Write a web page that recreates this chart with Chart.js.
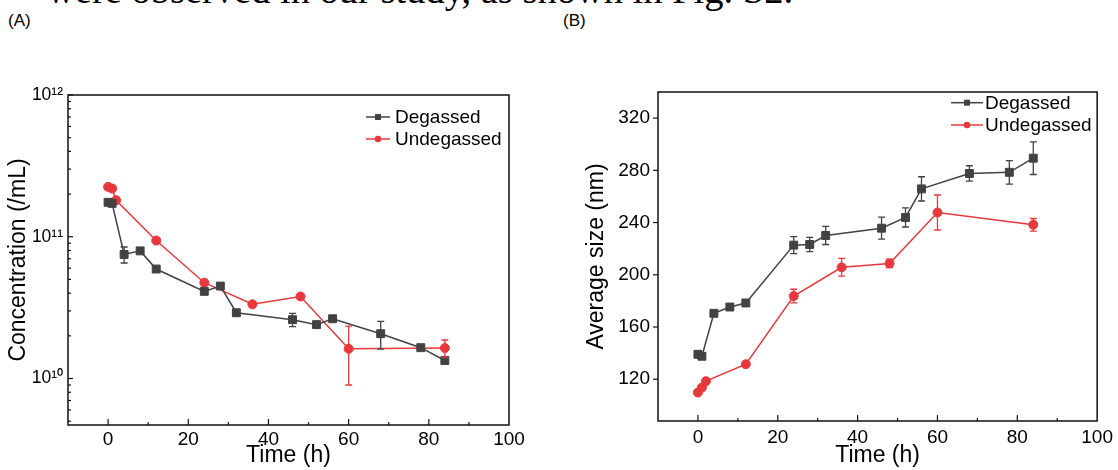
<!DOCTYPE html>
<html>
<head>
<meta charset="utf-8">
<script src="https://cdn.jsdelivr.net/npm/chart.js@4.4.1/dist/chart.umd.min.js"></script>
<style>
html, body { margin: 0; padding: 0; background: #fff; }
#page { position: relative; width: 1118px; height: 470px; overflow: hidden; font-family: 'Liberation Sans', Arial, sans-serif; color: #000; }
#caption { position: absolute; left: 47px; top: -29px; font-family: 'Liberation Serif', 'Times New Roman', serif; font-size: 38.5px; line-height: 38px; white-space: nowrap; }
.tag { position: absolute; top: 12px; font-size: 17px; line-height: 17px; }
canvas { position: absolute; top: 40px; }
</style>
</head>
<body>
<div id="page">
  <div id="caption">were observed in our study, as shown in Fig. S2.</div>
  <div class="tag" style="left:8px">(A)</div>
  <div class="tag" style="left:563px">(B)</div>
  <canvas id="chartA" width="550" height="430" style="left:0"></canvas>
  <canvas id="chartB" width="558" height="430" style="left:560px"></canvas>
</div>
<script>
// --- DATA ---
const hoursDeg   = [0, 1, 4, 8, 12, 24, 28, 32, 46, 52, 56, 68, 78, 84];
const hoursUndeg = [0, 1, 2, 12, 24, 36, 48, 60, 84];

// (A) concentration, /mL
const concDeg      = [1.75e11, 1.72e11, 7.5e10, 7.95e10, 5.92e10, 4.12e10, 4.49e10, 2.91e10, 2.60e10, 2.40e10, 2.64e10, 2.07e10, 1.65e10, 1.34e10];
const concDegErr   = [0, 0, 0.97e10, 0, 0, 0, 0, 0, 0.28e10, 0.12e10, 0, 0.46e10, 0, 0];
const concUndeg    = [2.25e11, 2.19e11, 1.81e11, 9.4e10, 4.74e10, 3.34e10, 3.79e10, 1.62e10, 1.64e10];
const concUndegErr = [0, 0, 0, 0, 0, 0, 0, 0.72e10, 0.23e10];

// (B) average size, nm
const sizeDeg      = [139.1, 137.6, 170.5, 175.3, 178.4, 222.7, 223.2, 230.1, 235.7, 243.9, 265.8, 277.6, 278.5, 289.3];
const sizeDegErr   = [1.5, 1.5, 1.5, 1.5, 2.5, 6.5, 5.4, 6.9, 8.4, 7.3, 9.3, 5.9, 9.0, 12.5];
const sizeUndeg    = [109.8, 113.6, 118.5, 131.5, 183.7, 205.7, 208.7, 247.7, 238.3];
const sizeUndegErr = [1, 1, 1, 1.5, 5.2, 6.8, 3.2, 13.4, 4.8];

// tick labels
const timeTicks = [0, 20, 40, 60, 80, 100];
const concTicks = [1e10, 1e11, 1e12];
const sizeTicks = [120, 160, 200, 240, 280, 320];

const GRAY = '#424242';
const RED = '#e8383b';
const SUP = { '0': '\u2070', '1': '\u00b9', '2': '\u00b2', '3': '\u00b3', '4': '\u2074', '5': '\u2075', '6': '\u2076', '7': '\u2077', '8': '\u2078', '9': '\u2079' };

Chart.defaults.font.family = "'Liberation Sans', Arial, sans-serif";
Chart.defaults.color = '#000';

function pairs(xs, ys) {
    return xs.map((x, i) => ({ x: x, y: ys[i] }));
}

function powerLabel(v) {
    const e = Math.round(Math.log10(v));
    const hit = concTicks.some(t => Math.abs(t - v) / t < 1e-6);
    if (!hit) return '';
    return '10' + String(e).split('').map(c => SUP[c]).join('');
}

// error bars drawn from the dataset's errors array
const errorBars = {
    id: 'errorBars',
    afterDatasetsDraw(chart) {
        const ctx = chart.ctx, yScale = chart.scales.y;
        chart.data.datasets.forEach((ds, i) => {
            if (!ds.errors) return;
            const meta = chart.getDatasetMeta(i);
            ctx.save();
            ctx.strokeStyle = ds.borderColor;
            ctx.lineWidth = 1.3;
            meta.data.forEach((pt, j) => {
                const e = ds.errors[j];
                if (!e) return;
                const v = ds.data[j].y;
                const top = yScale.getPixelForValue(v + e);
                const bot = yScale.getPixelForValue(v - e);
                ctx.beginPath();
                ctx.moveTo(pt.x, top); ctx.lineTo(pt.x, bot);
                ctx.moveTo(pt.x - 3.5, top); ctx.lineTo(pt.x + 3.5, top);
                ctx.moveTo(pt.x - 3.5, bot); ctx.lineTo(pt.x + 3.5, bot);
                ctx.stroke();
            });
            ctx.restore();
        });
    }
};

// box around the plot plus Origin-style tick marks
const frame = {
    id: 'frame',
    afterDraw(chart, args, opts) {
        const ctx = chart.ctx, a = chart.chartArea;
        ctx.save();
        ctx.strokeStyle = '#111';
        ctx.lineWidth = 1.5;
        ctx.strokeRect(a.left, a.top, a.right - a.left, a.bottom - a.top);
        ctx.lineWidth = 1.2;
        ['x', 'y'].forEach(id => {
            const s = chart.scales[id], o = opts[id];
            let marks = [];
            if (s.type === 'logarithmic') {
                for (let n = Math.floor(Math.log10(s.min)); n <= Math.ceil(Math.log10(s.max)); n++) {
                    for (let k = 1; k <= 9; k++) {
                        const v = k * Math.pow(10, n);
                        if (v >= s.min && v <= s.max) marks.push({ v: v, major: k === 1 });
                    }
                }
            } else {
                marks = s.ticks.map(t => ({ v: t.value, major: t.label !== '' }));
            }
            marks.forEach(m => {
                const len = m.major ? o.major : o.minor;
                if (!len) return;
                const p = s.getPixelForValue(m.v);
                const sign = o.dir === 'in' ? 1 : -1;
                ctx.beginPath();
                if (id === 'x') {
                    if (p < a.left + 1 || p > a.right - 1) return;
                    ctx.moveTo(p, a.bottom); ctx.lineTo(p, a.bottom - sign * len);
                } else {
                    ctx.moveTo(a.left, p); ctx.lineTo(a.left + sign * len, p);
                }
                ctx.stroke();
            });
        });
        ctx.restore();
    }
};

// legend sitting inside the plot, line + marker + text
const innerLegend = {
    id: 'innerLegend',
    afterDraw(chart, args, opts) {
        const ctx = chart.ctx, a = chart.chartArea;
        ctx.save();
        ctx.font = '19px ' + Chart.defaults.font.family;
        ctx.textBaseline = 'middle';
        chart.data.datasets.forEach((ds, i) => {
            const y = a.top + opts.y + i * opts.rowGap;
            const x0 = a.left + opts.x, x1 = x0 + opts.lineLen, mx = (x0 + x1) / 2;
            ctx.strokeStyle = ds.borderColor;
            ctx.fillStyle = ds.borderColor;
            ctx.lineWidth = 1.5;
            ctx.beginPath(); ctx.moveTo(x0, y); ctx.lineTo(x1, y); ctx.stroke();
            ctx.beginPath();
            if (ds.pointStyle === 'rect') ctx.rect(mx - 3, y - 3, 6, 6);
            else ctx.arc(mx, y, 3.3, 0, Math.PI * 2);
            ctx.fill();
            ctx.fillStyle = '#000';
            ctx.fillText(ds.label, x1 + opts.gap, y + 1);
        });
        ctx.restore();
    }
};

function series(label, color, style, radius, xs, ys, errs) {
    return {
        label: label,
        data: pairs(xs, ys),
        errors: errs,
        borderColor: color,
        backgroundColor: color,
        pointBackgroundColor: color,
        pointBorderColor: color,
        borderWidth: 1.5,
        pointStyle: style,
        pointRadius: radius,
        pointBorderWidth: 1,
        tension: 0
    };
}

function timeAxis(height, pad) {
    return {
        type: 'linear',
        min: -10,
        max: 100,
        grid: { display: false, drawTicks: false, tickLength: 0 },
        border: { display: false },
        ticks: {
            stepSize: 10,
            autoSkip: false,
            maxRotation: 0,
            padding: pad,
            font: { size: 19 },
            callback: v => timeTicks.includes(v) ? String(v) : ''
        },
        title: { display: true, text: 'Time (h)', font: { size: 23 }, padding: { top: 0, bottom: 1 } },
        afterFit: s => { s.height = height; }
    };
}

// 1. CONCENTRATION (log scale)
new Chart(document.getElementById('chartA'), {
    type: 'line',
    data: {
        datasets: [
            series('Degassed', GRAY, 'rect', 5.6, hoursDeg, concDeg, concDegErr),
            series('Undegassed', RED, 'circle', 4.5, hoursUndeg, concUndeg, concUndegErr)
        ]
    },
    options: {
        responsive: false,
        animation: false,
        devicePixelRatio: 1,
        layout: { padding: { top: 55, right: 41, left: 0, bottom: 0 } },
        scales: {
            x: timeAxis(45, 3),
            y: {
                type: 'logarithmic',
                min: 4.7e9,
                max: 1e12,
                grid: { display: false, drawTicks: false, tickLength: 0 },
                border: { display: false },
                ticks: { autoSkip: false, padding: 5, font: { size: 17.5 }, callback: v => powerLabel(v) },
                title: { display: true, text: 'Concentration (/mL)', font: { size: 23 }, padding: { top: 5, bottom: 0 } },
                afterFit: s => { s.width = 68; }
            }
        },
        plugins: {
            legend: { display: false },
            tooltip: { enabled: false },
            frame: { x: { major: 6, minor: 3, dir: 'in' }, y: { major: 5, minor: 3, dir: 'in' } },
            innerLegend: { x: 298, lineLen: 24, gap: 5, y: 22, rowGap: 22 }
        }
    },
    plugins: [errorBars, frame, innerLegend]
});

// 2. AVERAGE SIZE
new Chart(document.getElementById('chartB'), {
    type: 'line',
    data: {
        datasets: [
            series('Degassed', GRAY, 'rect', 5.6, hoursDeg, sizeDeg, sizeDegErr),
            series('Undegassed', RED, 'circle', 4.5, hoursUndeg, sizeUndeg, sizeUndegErr)
        ]
    },
    options: {
        responsive: false,
        animation: false,
        devicePixelRatio: 1,
        layout: { padding: { top: 52, right: 18, left: 0, bottom: 0 } },
        scales: {
            x: timeAxis(49, 5),
            y: {
                type: 'linear',
                min: 88,
                max: 340,
                grid: { display: false, drawTicks: false, tickLength: 0 },
                border: { display: false },
                ticks: {
                    stepSize: 40,
                    autoSkip: false,
                    includeBounds: false,
                    padding: 8,
                    font: { size: 19 },
                    callback: v => sizeTicks.includes(v) ? String(v) : ''
                },
                title: { display: true, text: 'Average size (nm)', font: { size: 23 }, padding: { top: 23, bottom: 0 } },
                afterFit: s => { s.width = 98; }
            }
        },
        plugins: {
            legend: { display: false },
            tooltip: { enabled: false },
            frame: { x: { major: 6, minor: 3, dir: 'in' }, y: { major: 5, minor: 0, dir: 'out' } },
            innerLegend: { x: 293, lineLen: 32, gap: 2, y: 10.7, rowGap: 22.3 }
        }
    },
    plugins: [errorBars, frame, innerLegend]
});
</script>
</body>
</html>
